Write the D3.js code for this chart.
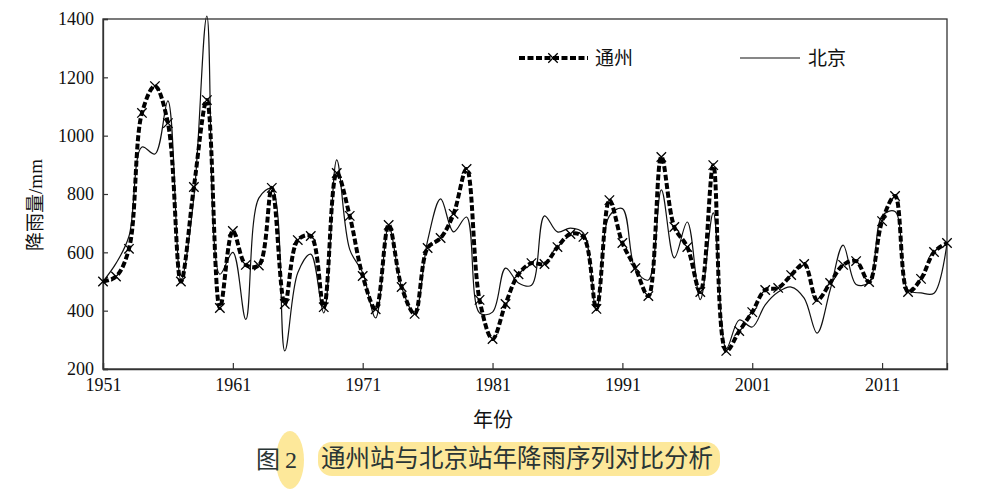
<!DOCTYPE html>
<html><head><meta charset="utf-8">
<script src="https://cdn.jsdelivr.net/npm/d3@7/dist/d3.min.js"></script>
<style>
html,body{margin:0;padding:0;background:#fff;}
svg{display:block;}
</style></head>
<body>
<svg id="chart" width="1005" height="489"></svg>
<script>
const years = d3.range(1951, 2017);
const tongzhou = [500,517,612,1078,1170,1043,500,824,1122,409,673,557,555,821,423,642,656,412,872,725,519,405,694,481,389,615,649,732,886,437,303,423,525,563,560,618,663,653,406,779,632,546,450,927,687,618,464,899,262,330,395,471,478,522,560,437,495,557,570,498,707,793,464,509,601,632];
const beijing = [500,562,655,961,937,1119,505,790,1410,525,600,370,786,818,262,530,594,392,917,610,530,375,690,480,389,640,783,670,721,392,395,546,495,487,725,670,683,666,400,725,750,540,505,814,581,704,438,735,270,368,344,420,464,481,443,323,471,625,490,498,725,740,471,461,460,632];
const yTicks = [200,400,600,800,1000,1200,1400];
const xTicks = [1951,1961,1971,1981,1991,2001,2011];
const seriesNames = ["通州","北京"];

const svg = d3.select("#chart");
const m = {left:103, top:19, right:947, bottom:369};
const x = d3.scaleLinear().domain([1951, 2016]).range([m.left, m.right]);
const y = d3.scaleLinear().domain([200, 1400]).range([m.bottom, m.top]);
const serif = "'Liberation Serif','Times New Roman','Noto Sans CJK SC',serif";
const cjk = "'Liberation Serif','Noto Sans CJK SC',sans-serif";

// frame
svg.append("rect").attr("x", m.left).attr("y", m.top)
  .attr("width", m.right - m.left).attr("height", m.bottom - m.top)
  .attr("fill", "none").attr("stroke", "#333").attr("stroke-width", 1.3);

// y axis
const yAxis = svg.append("g").attr("transform", `translate(${m.left},0)`)
  .call(d3.axisLeft(y).tickValues(yTicks).tickSize(-5).tickPadding(9).tickFormat(d3.format("d")));
yAxis.select(".domain").attr("stroke", "#333").attr("stroke-width", 1.3);
yAxis.selectAll(".tick line").attr("stroke", "#333").attr("stroke-width", 1.2);
yAxis.selectAll("text").attr("font-family", serif).attr("font-size", 18).attr("fill", "#111");

// x axis
const xAxis = svg.append("g").attr("transform", `translate(0,${m.bottom})`)
  .call(d3.axisBottom(x).tickValues(xTicks).tickSize(-6).tickPadding(9).tickFormat(d3.format("d")));
xAxis.select(".domain").attr("stroke", "#333").attr("stroke-width", 1.3);
xAxis.selectAll(".tick line").attr("stroke", "#333").attr("stroke-width", 1.2);
xAxis.selectAll("text").attr("font-family", serif).attr("font-size", 18).attr("fill", "#111");

// lines
const line = d3.line().x((d,i) => x(years[i])).y(d => y(d)).curve(d3.curveCatmullRom.alpha(0.5));
const plot = svg.append("g");
plot.append("path").datum(beijing).attr("d", line)
  .attr("fill", "none").attr("stroke", "#111").attr("stroke-width", 1.2);
plot.append("path").datum(tongzhou).attr("d", line)
  .attr("fill", "none").attr("stroke", "#000").attr("stroke-width", 4)
  .attr("stroke-dasharray", "6,2.5");
const cross = d3.symbol().type(d3.symbolX).size(60);
plot.selectAll(".mk").data(tongzhou).join("path")
  .attr("transform", (d,i) => `translate(${x(years[i])},${y(d)})`)
  .attr("d", cross).attr("fill", "none").attr("stroke", "#000").attr("stroke-width", 1.3);

// legend
const lg = svg.append("g");
lg.append("line").attr("x1", 519).attr("x2", 588).attr("y1", 58).attr("y2", 58)
  .attr("stroke", "#000").attr("stroke-width", 4).attr("stroke-dasharray", "6,2.5");
lg.append("path").attr("transform", "translate(553,58)").attr("d", cross)
  .attr("fill", "none").attr("stroke", "#000").attr("stroke-width", 1.3);
lg.append("text").attr("x", 595).attr("y", 65).text(seriesNames[0])
  .attr("font-family", cjk).attr("font-size", 19).attr("fill", "#111");
lg.append("line").attr("x1", 740).attr("x2", 800).attr("y1", 58).attr("y2", 58)
  .attr("stroke", "#111").attr("stroke-width", 1.2);
lg.append("text").attr("x", 808).attr("y", 65).text(seriesNames[1])
  .attr("font-family", cjk).attr("font-size", 19).attr("fill", "#111");

// axis titles
svg.append("text").attr("transform", "translate(42,205) rotate(-90)")
  .attr("text-anchor", "middle").text("降雨量/mm")
  .attr("font-family", cjk).attr("font-size", 19).attr("fill", "#111");
svg.append("text").attr("x", 493).attr("y", 427).attr("text-anchor", "middle").text("年份")
  .attr("font-family", cjk).attr("font-size", 20).attr("fill", "#111");

// caption with highlights
const hl = "#fde89a";
svg.append("ellipse").attr("cx", 290).attr("cy", 460).attr("rx", 14).attr("ry", 29).attr("fill", hl);
svg.append("rect").attr("x", 318).attr("y", 442).attr("width", 402).attr("height", 34)
  .attr("rx", 14).attr("fill", hl);
svg.append("text").attr("x", 256).attr("y", 468).text("图2")
  .attr("letter-spacing", 5)
  .attr("font-family", cjk).attr("font-size", 24).attr("fill", "#2a3535");
svg.append("text").attr("x", 321).attr("y", 467).text("通州站与北京站年降雨序列对比分析")
  .attr("font-family", cjk).attr("font-size", 24.5).attr("fill", "#2a3535");
</script>
</body></html>
